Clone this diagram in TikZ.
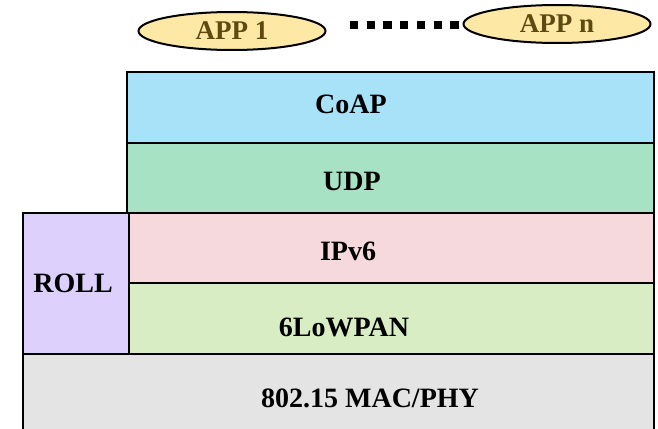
\documentclass[tikz,border=0pt]{standalone}
\usepackage{fontspec}
\setmainfont{Liberation Serif}
\usetikzlibrary{shapes.geometric}
\definecolor{coapc}{HTML}{A8E2F8}
\definecolor{udpc}{HTML}{A8E2C4}
\definecolor{ipc}{HTML}{F5D9DC}
\definecolor{lowc}{HTML}{D9EDC5}
\definecolor{rollc}{HTML}{DDD0FC}
\definecolor{macc}{HTML}{E4E4E4}
\definecolor{appfill}{HTML}{FDE9A5}
\definecolor{apptext}{HTML}{5C4A10}
\tikzset{
  layer/.style={draw=black, line width=2pt},
  lbl/.style={anchor=base, inner sep=0pt, font=\fontsize{28}{30}\selectfont\bfseries},
  app/.style={ellipse, draw=black, line width=2pt, fill=appfill, minimum width=187pt, minimum height=38pt, inner sep=0pt, text=apptext, font=\fontsize{27}{30}\selectfont\bfseries},
  dots/.style={line width=8.3pt, dash pattern=on 8.3pt off 8.4pt}
}
\begin{document}
\begin{tikzpicture}[x=1pt,y=-1pt]
\useasboundingbox (0,0) rectangle (658,428);
% layers
\path[layer, fill=macc] (23,354) rectangle (654,440);
\path[layer, fill=rollc] (23,213) rectangle (129,354);
\path[layer, fill=lowc] (129,283) rectangle (654,354);
\path[layer, fill=ipc] (129,213) rectangle (654,283);
\path[layer, fill=udpc] (127,143) rectangle (654,213);
\path[layer, fill=coapc] (127,72) rectangle (654,143);
% labels
\node[lbl] (coap) at (351,113) {CoAP};
\node[lbl] (udp) at (352,190) {UDP};
\node[lbl] (ipv6) at (348,260) {IPv6};
\node[lbl] (lowpan) at (344,336) {6LoWPAN};
\node[lbl] (roll) at (73,292) {ROLL};
\node[lbl] (mac) at (370,407) {802.15 MAC/PHY};
% apps
\node[app] (app1) at (232,31) {\raisebox{-2pt}{APP 1}};
\node[app] (appn) at (557,24) {\raisebox{-1pt}{APP n}};
\coordinate (d1) at (350,25);
\draw[dots] (d1) -- (d1 -| appn.west);
\end{tikzpicture}
\end{document}
